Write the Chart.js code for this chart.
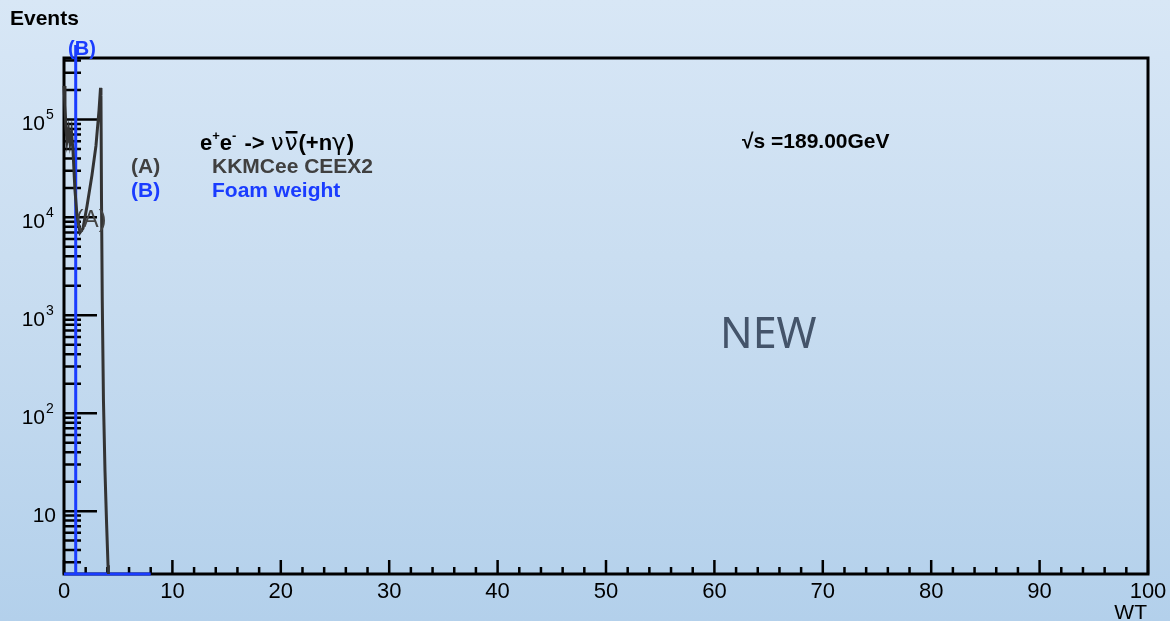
<!DOCTYPE html>
<html>
<head>
<meta charset="utf-8">
<script src="https://cdn.jsdelivr.net/npm/chart.js@4"></script>
<style>
  html, body { margin: 0; padding: 0; }
  body { width: 1170px; height: 621px; overflow: hidden;
         background: linear-gradient(to bottom, #d8e7f6 0%, #c7dcf0 50%, #b3d0eb 100%); }
  canvas { display: block; }
</style>
</head>
<body>
<canvas id="c" width="1170" height="621"></canvas>
<script>
// histogram (A) KKMCee CEEX2
const wtA = [0, 0.09, 0.18, 0.28, 0.42, 0.55, 0.69, 0.83, 1.01, 1.2, 1.48, 1.75, 2.12, 2.58, 2.95, 3.23, 3.37, 3.41, 3.46, 3.53, 3.64, 3.78, 3.92, 4.06, 4.1];
const eventsA = [2.2e5, 1.4e5, 8.1e4, 6.1e4, 7.7e4, 5.8e4, 7.4e4, 4.8e4, 1.9e4, 1.05e4, 7.0e3, 7.7e3, 1.3e4, 2.7e4, 5.4e4, 1.24e5, 2.1e5, 1.75e5, 1.5e4, 1.42e3, 135, 26, 8, 2.8, 0];

// histogram (B) Foam weight: everything sits in one bin at WT ~ 1
const wtB = [0, 1.08, 1.08, 1.08, 8];
const eventsB = [0, 0, 1e6, 0, 0];

// axes
const yMin = 2.28, yMax = 4.24e5;
const xMajorTicks = [0, 10, 20, 30, 40, 50, 60, 70, 80, 90, 100];
const xTickLabels = ['0', '10', '20', '30', '40', '50', '60', '70', '80', '90', '100'];
const yMajorTicks = [10, 100, 1000, 10000, 100000];
const yTickExp = ['', '2', '3', '4', '5'];

const toPoints = (xs, ys) => xs.map((x, i) => ({ x: x, y: Math.max(ys[i], yMin) }));

function drawRuns(ctx, x, y, parts) {
  parts.forEach(p => {
    ctx.font = p.f;
    ctx.fillStyle = p.c || '#000';
    ctx.fillText(p.t, x, y + (p.dy || 0));
    const w = ctx.measureText(p.t).width;
    if (p.over) {
      ctx.fillRect(x + 1, y - 19, w - 1, 2.5);
    }
    x += w + (p.gap || 0);
  });
}

const frame = {
  id: 'frame',
  beforeDatasetsDraw(chart) {
    const { ctx, chartArea: a, scales: { x, y } } = chart;
    ctx.save();
    ctx.strokeStyle = '#000';
    ctx.lineWidth = 3;
    ctx.strokeRect(a.left, a.top, a.right - a.left, a.bottom - a.top);

    ctx.lineWidth = 2.5;
    ctx.beginPath();
    // y ticks, inside, log minors
    for (let dec = 1; dec <= 1e5; dec *= 10) {
      for (let m = 1; m <= 9; m++) {
        const v = dec * m;
        if (v < yMin || v > yMax) continue;
        const py = y.getPixelForValue(v);
        ctx.moveTo(a.left, py);
        ctx.lineTo(a.left + (m === 1 && dec > 1 ? 33 : 17), py);
      }
    }
    // x ticks, inside
    for (let v = 0; v <= 100; v += 2) {
      const px = x.getPixelForValue(v);
      ctx.moveTo(px, a.bottom);
      ctx.lineTo(px, a.bottom - (v % 10 === 0 ? 14 : 7));
    }
    ctx.stroke();
    ctx.restore();
  },
  afterDatasetsDraw(chart) {
    const { ctx, chartArea: a, scales: { x, y } } = chart;
    ctx.save();
    ctx.fillStyle = '#000';
    ctx.textBaseline = 'alphabetic';

    // x labels
    ctx.font = '22px "Liberation Sans", Arial, sans-serif';
    ctx.textAlign = 'center';
    xMajorTicks.forEach((v, i) => ctx.fillText(xTickLabels[i], x.getPixelForValue(v), 598));
    ctx.textAlign = 'right';
    ctx.font = '21px "Liberation Sans", Arial, sans-serif';
    ctx.fillText('WT', 1147, 619);

    // y labels
    yMajorTicks.forEach((v, i) => {
      const py = y.getPixelForValue(v);
      if (yTickExp[i]) {
        ctx.font = '21px "Liberation Sans", Arial, sans-serif';
        ctx.textAlign = 'right';
        ctx.fillText('10', 45, py + 11);
        ctx.font = '14px "Liberation Sans", Arial, sans-serif';
        ctx.textAlign = 'left';
        ctx.fillText(yTickExp[i], 46, py);
      } else {
        ctx.font = '21px "Liberation Sans", Arial, sans-serif';
        ctx.textAlign = 'right';
        ctx.fillText('10', 56, py + 11);
      }
    });

    ctx.textAlign = 'left';
    ctx.font = 'bold 21px "Liberation Sans", Arial, sans-serif';
    ctx.fillText('Events', 10, 25);

    // legend
    const B = 'bold 22px "Liberation Sans", Arial, sans-serif';
    const S = 'bold 13px "Liberation Sans", Arial, sans-serif';
    const G = '23px "DejaVu Sans", sans-serif';
    drawRuns(ctx, 200, 150, [
      { t: 'e', f: B }, { t: '+', f: S, dy: -10 }, { t: 'e', f: B }, { t: '-', f: S, dy: -10, gap: 2 },
      { t: ' -> ', f: B }, { t: 'ν', f: G, gap: 1 }, { t: 'ν', f: G, over: true, gap: 1 },
      { t: '(+n', f: B }, { t: 'γ', f: G, gap: 1 }, { t: ')', f: B }
    ]);
    ctx.font = 'bold 21px "Liberation Sans", Arial, sans-serif';
    ctx.fillStyle = '#404040';
    ctx.fillText('(A)', 131, 173);
    ctx.fillText('KKMCee CEEX2', 212, 173);
    ctx.fillStyle = '#1a3cff';
    ctx.fillText('(B)', 131, 197);
    ctx.fillText('Foam weight', 212, 197);

    ctx.fillStyle = '#000';
    ctx.fillText('√s =189.00GeV', 742, 148);

    // curve tags
    ctx.font = 'bold 20px "Liberation Sans", Arial, sans-serif';
    ctx.fillStyle = '#1a3cff';
    ctx.textAlign = 'center';
    ctx.fillText('(B)', 82, 55);
    ctx.font = '23px "Liberation Sans", Arial, sans-serif';
    ctx.fillStyle = '#444';
    ctx.fillText('(A)', 91, 227);

    ctx.textAlign = 'left';
    ctx.font = '43px "Noto Sans", "Open Sans", sans-serif';
    ctx.fillStyle = '#44546a';
    ctx.fillText('NEW', 720, 348);
    ctx.restore();
  }
};

new Chart(document.getElementById('c'), {
  type: 'scatter',
  data: {
    datasets: [
      {
        label: 'KKMCee CEEX2',
        data: toPoints(wtA, eventsA),
        showLine: true,
        borderColor: '#333333',
        borderWidth: 3,
        pointRadius: 0,
        tension: 0,
        clip: { left: 3, top: 3, right: 3, bottom: 3 }
      },
      {
        label: 'Foam weight',
        data: toPoints(wtB, eventsB),
        showLine: true,
        borderColor: '#1a3cff',
        borderWidth: 3,
        pointRadius: 0,
        tension: 0,
        clip: { left: 3, top: 13, right: 3, bottom: 3 }
      }
    ]
  },
  options: {
    responsive: false,
    animation: false,
    devicePixelRatio: 1,
    layout: { padding: { left: 64, right: 22, top: 58, bottom: 47 } },
    plugins: { legend: { display: false }, tooltip: { enabled: false } },
    scales: {
      x: { type: 'linear', min: 0, max: 100, display: false },
      y: { type: 'logarithmic', min: yMin, max: yMax, display: false }
    }
  },
  plugins: [frame]
});
</script>
</body>
</html>
